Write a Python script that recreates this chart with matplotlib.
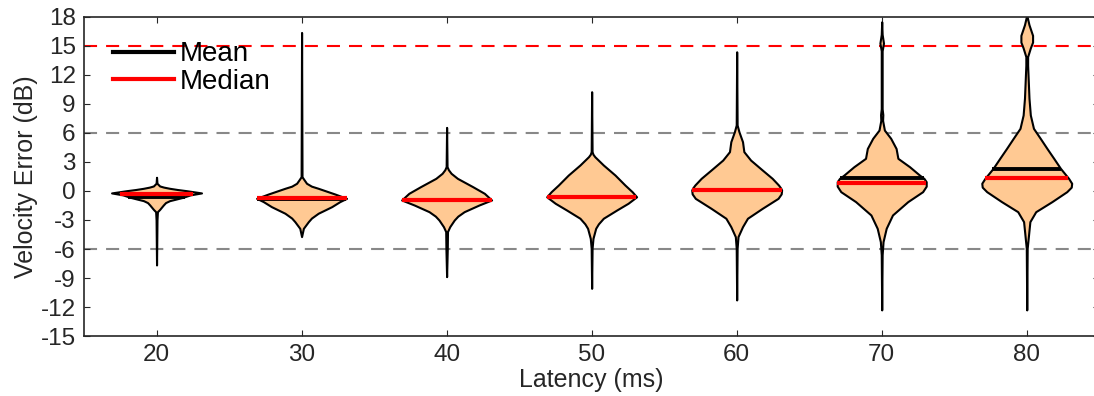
import numpy as np
import matplotlib
matplotlib.use("Agg")
import matplotlib.pyplot as plt
from matplotlib.lines import Line2D

plt.rcParams['font.family'] = ['Liberation Sans', 'DejaVu Sans']
plt.rcParams['axes.unicode_minus'] = False
plt.rcParams['lines.scale_dashes'] = False

latency = [20, 30, 40, 50, 60, 70, 80]

# violin outlines: error level (dB) and relative half-width
v20_y = [1.42, 0.8, 0.52, 0.4, 0.28, 0.15, 0.03, -0.2, -0.4, -0.65, -0.85, -1.0, -1.2, -1.45, -1.9, -2.14, -3.0, -7.65]
v20_w = [0, 0.01, 0.07, 0.16, 0.29, 0.47, 0.67, 1.0, 0.75, 0.59, 0.42, 0.29, 0.2, 0.15, 0.07, 0.02, 0.01, 0]
v30_y = [16.4, 1.48, 1.2, 0.8, 0.5, 0.28, -0.31, -0.76, -1.1, -1.62, -2.3, -2.8, -3.17, -3.86, -4.72]
v30_w = [0, 0.01, 0.05, 0.11, 0.22, 0.37, 0.74, 1.0, 0.85, 0.67, 0.37, 0.22, 0.15, 0.04, 0]
v40_y = [6.58, 2.52, 2.2, 1.83, 1.31, 0.45, -0.24, -0.93, -1.45, -2.14, -2.6, -3.0, -3.69, -4.2, -6.0, -8.86]
v40_w = [0, 0.01, 0.04, 0.1, 0.24, 0.58, 0.84, 1.0, 0.72, 0.39, 0.25, 0.17, 0.07, 0.02, 0.015, 0]
v50_y = [10.27, 4.07, 3.8, 3.55, 2.69, 1.65, 0.62, -0.07, -0.6, -1.27, -1.96, -2.82, -3.4, -3.86, -4.9, -5.93, -10.07]
v50_w = [0, 0.01, 0.03, 0.07, 0.26, 0.52, 0.74, 0.9, 1.0, 0.81, 0.56, 0.26, 0.15, 0.09, 0.03, 0.01, 0]
v60_y = [14.4, 6.83, 6.14, 5.1, 4.07, 3.2, 2.17, 1.31, 0.62, 0.3, 0.1, -0.3, -0.76, -1.79, -2.82,
         -3.69, -4.72, -5.93, -11.27]
v60_w = [0, 0.01, 0.05, 0.13, 0.16, 0.31, 0.57, 0.79, 0.93, 0.98, 1.0, 0.99, 0.92, 0.57, 0.24,
         0.13, 0.03, 0.01, 0]
v70_y = [17.5, 16.2, 15.3, 14.5, 8.5, 7.9, 7.3, 6.3, 5.45, 4.4, 3.38, 2.51, 1.65, 1.3, 0.96, 0.5,
         -0.07, -1.1, -2.48, -3.86, -5.24, -6.6, -12.3]
v70_w = [0, 0.01, 0.04, 0.01, 0.01, 0.025, 0.02, 0.06, 0.2, 0.32, 0.36, 0.62, 0.84, 0.94, 0.99, 0.99,
         0.91, 0.58, 0.24, 0.1, 0.03, 0.01, 0]
v80_y = [18.0, 17.2, 16.1, 15.4, 14.8, 13.9, 13.0, 9.6, 7.86, 6.48, 5.45, 4.4, 3.38, 2.34,
         1.31, 0.8, 0.4, -0.07, -1.1, -2.14, -3.17, -4.55, -5.93, -12.3]
v80_w = [0.01, 0.05, 0.13, 0.13, 0.08, 0.02, 0.02, 0.05, 0.08, 0.15, 0.3, 0.45, 0.6, 0.75,
         0.93, 1.0, 0.99, 0.89, 0.56, 0.2, 0.07, 0.04, 0.01, 0]

means = [-0.58, -0.8, -0.95, -0.62, 0.12, 1.31, 2.27]
medians = [-0.35, -0.76, -0.93, -0.62, 0.1, 0.86, 1.34]

profiles = [(v20_y, v20_w), (v30_y, v30_w), (v40_y, v40_w), (v50_y, v50_w),
            (v60_y, v60_w), (v70_y, v70_w), (v80_y, v80_w)]

half = 3.1  # max half-width in latency units

fig = plt.figure(figsize=(10.94, 3.96), dpi=100)
ax = fig.add_axes([0.0768, 0.1515, 0.928, 0.8056])

dash = (0, (9.4, 6.5))
ax.axhline(15, color='red', lw=1.5, ls=dash, zorder=1)
ax.axhline(6, color='#888888', lw=1.5, ls=dash, zorder=1)
ax.axhline(-6, color='#888888', lw=1.5, ls=dash, zorder=1)

for x, (ys, ws), mu, md in zip(latency, profiles, means, medians):
    ys = np.array(ys)
    ws = np.array(ws) * half
    ax.fill_betweenx(ys, x - ws, x + ws, facecolor='#FFC993', edgecolor='black',
                     lw=1.5, zorder=2, joinstyle='round')
    hw_mu = np.interp(mu, ys[::-1], ws[::-1])
    hw_md = np.interp(md, ys[::-1], ws[::-1])
    ax.plot([x - hw_mu, x + hw_mu], [mu, mu], color='black', lw=2.8, zorder=3,
            solid_capstyle='butt')
    ax.plot([x - hw_md, x + hw_md], [md, md], color='red', lw=3.0, zorder=4,
            solid_capstyle='butt')

ax.set_xlim(15, 85)
ax.set_ylim(-15, 18)
ax.set_xticks(latency)
ax.set_yticks(np.arange(-15, 19, 3))
ax.tick_params(direction='in', top=True, right=True, length=4, labelsize=17.5,
               colors='#262626', pad=6)
for s in ax.spines.values():
    s.set_color('#262626')
    s.set_linewidth(1.2)
ax.set_xlabel('Latency (ms)', fontsize=18, color='#262626', labelpad=1)
ax.set_ylabel('Velocity Error (dB)', fontsize=18, color='#262626', labelpad=2)

handles = [Line2D([], [], color='black', lw=3), Line2D([], [], color='red', lw=3)]
ax.legend(handles, ['Mean', 'Median'], loc='upper left', bbox_to_anchor=(0.0286, 0.924),
          frameon=False, fontsize=20, handlelength=2.2, handletextpad=0.2,
          labelspacing=0.05, borderpad=0, borderaxespad=0)

fig.savefig('out.png', dpi=100)
